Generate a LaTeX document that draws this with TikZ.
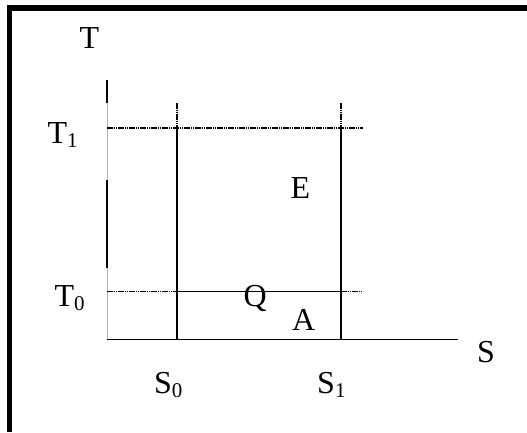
\documentclass[tikz,border=0pt]{standalone}
\usepackage{fontspec}
\setmainfont{Liberation Serif}
\newcommand\subsc[1]{\raisebox{-4pt}{\fontsize{21}{24}\selectfont #1}}
\begin{document}
\begin{tikzpicture}[x=1pt,y=-1pt,
  axisline/.style={line width=1.5pt,black},
  dotline/.style={line width=1.5pt,black,dash pattern=on 1.6pt off 0.6pt},
  frameline/.style={black,line cap=butt},
  lbl/.style={inner sep=0pt,anchor=base west,font=\fontsize{32}{36}\selectfont}]
\useasboundingbox (0,0) rectangle (527,432);
% frame
\draw[frameline,line width=5.5pt] (9.5,5) -- (9.5,432);
\draw[frameline,line width=6pt] (7,8) -- (527,8);
% named points
\coordinate (Ttop) at (107,80);
\coordinate (Ta) at (107,103);
\coordinate (Tb) at (107,180);
\coordinate (Tc) at (107,268);
\coordinate (O) at (107,339.5);
\coordinate (Send) at (458,339.5);
\coordinate (T1l) at (107,128);
\coordinate (T1r) at (363,128);
\coordinate (T0l) at (107,291.5);
\coordinate (T0r) at (363,291.5);
\coordinate (S0top) at (177,103);
\coordinate (S0a) at (177,128);
\coordinate (S0b) at (177,291.5);
\coordinate (S0bot) at (177,339.5);
\coordinate (S1top) at (341,103);
\coordinate (S1a) at (341,128);
\coordinate (S1b) at (341,291.5);
\coordinate (S1bot) at (341,339.5);
% T axis
\draw[gray!60,line width=0.8pt] (Ttop) -- (O);
\draw[axisline] (Ttop) -- (Ta);
\draw[axisline] (Tb) -- (Tc);
% S axis
\draw[axisline] (O) -- (Send);
% T1 line
\draw[dotline] (T1l) -- (T1r);
% T0 line
\draw[dotline] (T0l) -- (S0b);
\draw[axisline] (S0b) -- (S1b);
\draw[dotline] (S1b) -- (T0r);
% S0 vertical
\draw[dotline] (S0top) -- (S0a);
\draw[axisline] (S0a) -- (S0bot);
% S1 vertical
\draw[dotline] (S1top) -- (S1a);
\draw[axisline] (S1a) -- (S1bot);
% labels
\node[lbl] (lT) at (79.5,48) {T};
\node[lbl] (lT1) at (47.5,143) {T\subsc{1}};
\node[lbl] (lT0) at (54.5,306) {T\subsc{0}};
\node[lbl] (lE) at (290.5,198) {E};
\node[lbl] (lQ) at (243.5,306) {Q};
\node[lbl] (lA) at (292,330) {A};
\node[lbl] (lS) at (477,362) {S};
\node[lbl] (lS0) at (154,393) {S\subsc{0}};
\node[lbl] (lS1) at (317,393) {S\subsc{1}};
\end{tikzpicture}
\end{document}
